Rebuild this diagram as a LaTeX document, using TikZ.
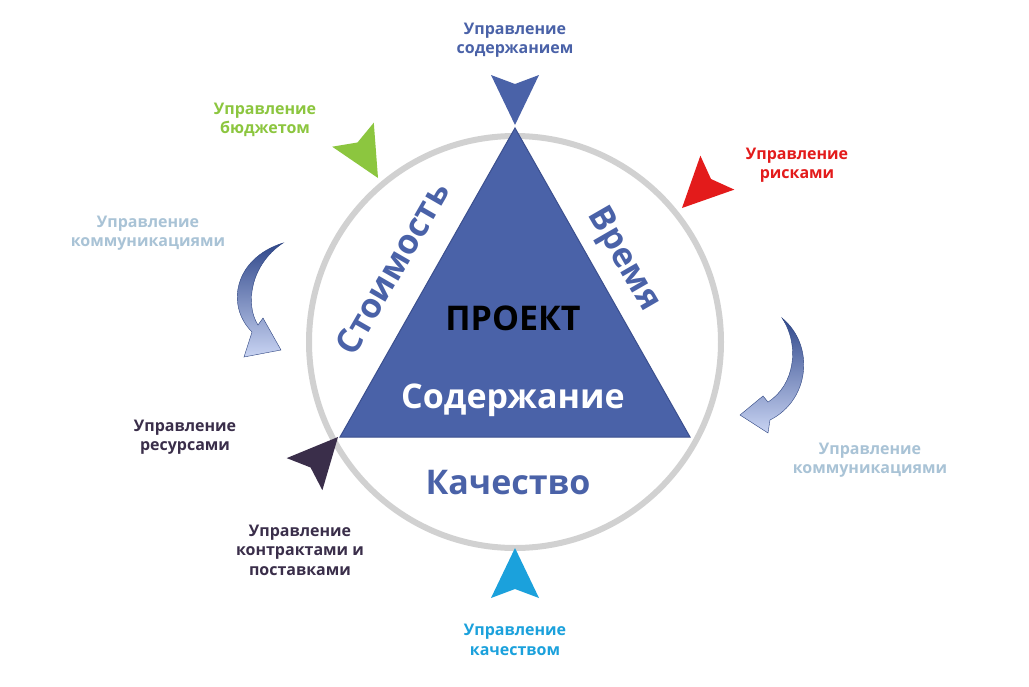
\documentclass[tikz,border=0pt]{standalone}
\usepackage{fontspec}
\setmainfont{Open Sans}
\begin{document}
\begin{tikzpicture}[x=1pt,y=-1pt,
  lbl/.style={font=\bfseries\fontsize{16}{19.5}\selectfont,align=center},
  big/.style={font=\bfseries\fontsize{34}{38}\selectfont}]
\definecolor{tri}{HTML}{4A62A8}
\definecolor{trid}{HTML}{3B4F8E}
\definecolor{cgreen}{HTML}{8CC63F}
\definecolor{cred}{HTML}{E31B1B}
\definecolor{clb}{HTML}{A9C3D6}
\definecolor{cdark}{HTML}{3A2E4A}
\definecolor{ccyan}{HTML}{1BA1DC}
\definecolor{cblue}{HTML}{4A6FD6}
\useasboundingbox (0,0) rectangle (1029,686);
\fill[white] (0,0) rectangle (1029,686);
\node[draw=black!18,line width=6pt,circle,minimum size=412pt] (circ) at (515,342) {};
\coordinate (A) at (515,128);
\coordinate (B) at (340,437);
\coordinate (C) at (690,437);
\fill[tri,draw=trid,line width=1pt] (A) -- (B) -- (C) -- cycle;
\node[big,black] (proj) at (513,318) {ПРОЕКТ};
\node[big,white] (sod) at (513,400) {Содержание};
\node[big,tri,rotate=60] (cost) at (392,268) {Стоимость};
\node[big,tri,rotate=-60] (time) at (623,260) {Время};
\node[big,tri] (qual) at (508,483) {Качество};
% labels
\node[lbl,tri] (l1) at (515,40) {Управление\\содержанием};
\node[lbl,cgreen] (l2) at (265,120) {Управление\\бюджетом};
\node[lbl,cred] (l3) at (797,165) {Управление\\рисками};
\node[lbl,clb] (l4) at (148,233) {Управление\\коммуникациями};
\node[lbl,clb] (l5) at (870,460) {Управление\\коммуникациями};
\node[lbl,cdark] (l6) at (185,437) {Управление\\ресурсами};
\node[lbl,cdark] (l7) at (300,550) {Управление\\контрактами и\\поставками};
\node[lbl,ccyan] (l8) at (515,640) {Управление\\качеством};
% arrowheads
\newcommand{\ahead}[3]{\fill[#3,shift={#1},rotate=#2] (0,0) -- (-50,24) -- (-41,0) -- (-50,-24) -- cycle;}
\ahead{(515,125)}{-90}{tri}
\ahead{(378,178)}{-60}{cgreen}
\ahead{(682,208)}{-135}{cred}
\ahead{(338,437)}{48}{cdark}
\ahead{(515,548)}{90}{ccyan}
% curved arrows
\shade[top color=cblue!65!black,bottom color=cblue!30!white,draw=cblue!60!black,line width=0.4pt]
 (283,243) .. controls (235,258) and (225,305) .. (252,332) -- (244,357) -- (281,350) -- (263,318) -- (258,325) .. controls (245,305) and (250,265) .. (283,243) -- cycle;
\shade[top color=cblue!65!black,bottom color=cblue!30!white,draw=cblue!60!black,line width=0.4pt]
 (782,318) .. controls (815,345) and (810,400) .. (770,420) -- (768,433) -- (740,415) -- (763,396) -- (768,402) .. controls (795,385) and (800,345) .. (782,318) -- cycle;
\end{tikzpicture}
\end{document}
